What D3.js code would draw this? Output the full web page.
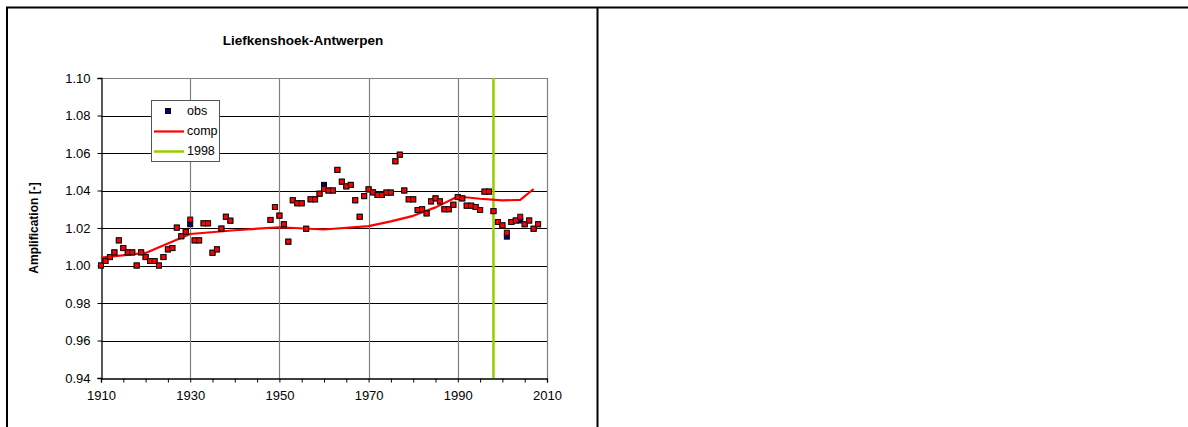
<!DOCTYPE html>
<html>
<head>
<meta charset="utf-8">
<script src="https://cdn.jsdelivr.net/npm/d3@7"></script>
<style>
  body { margin: 0; background: #fff; }
  text { font-family: "Liberation Sans", Arial, sans-serif; }
</style>
</head>
<body>
<script>
// data
var years = [1910,1911,1912,1913,1914,1915,1916,1917,1918,1919,1920,1921,1922,1923,1924,1925,1926,1927,1928,1929,
  1930,1931,1932,1933,1934,1935,1936,1937,1938,1939,
  1948,1949,1950,1951,1952,1953,1954,1955,1956,1957,1958,1959,
  1960,1961,1962,1963,1964,1965,1966,1967,1968,1969,1970,1971,1972,1973,1974,1975,1976,1977,1978,1979,
  1980,1981,1982,1983,1984,1985,1986,1987,1988,1989,1990,1991,1992,1993,1994,1995,1996,1997,1998,1999,
  2000,2001,2002,2003,2004,2005,2006,2007,2008];

// red markers
var redVals = [1.000,1.0024,1.0045,1.007,1.0134,1.0093,1.007,1.007,1.000,1.007,1.0045,1.0024,1.0024,1.000,1.0045,1.0086,1.0093,1.0202,1.0156,1.018,
  1.0245,1.0134,1.0134,1.0225,1.0225,1.0068,1.0086,1.0197,1.026,1.0239,
  1.0243,1.0312,1.0266,1.022,1.0127,1.0348,1.0332,1.0332,1.0196,1.0353,1.0353,1.0383,
  1.0408,1.040,1.040,1.051,1.0447,1.0422,1.043,1.0348,1.026,1.037,1.0406,1.039,1.0376,1.0376,1.0389,1.0389,1.0556,1.0591,1.040,1.0353,
  1.0353,1.0296,1.030,1.0278,1.0342,1.0358,1.0342,1.030,1.030,1.0324,1.0365,1.0358,1.0319,1.0319,1.0312,1.0296,1.0394,1.0394,1.029,1.0232,
  1.0214,1.0175,1.0232,1.024,1.026,1.022,1.024,1.0196,1.022];

// obs (navy markers, mostly hidden under the red ones)
var obsVals = [1.000,1.0024,1.0045,1.007,1.0134,1.0093,1.007,1.007,1.000,1.007,1.0045,1.0024,1.0024,1.000,1.0045,1.0086,1.0093,1.0202,1.0156,1.018,
  1.022,1.0134,1.0134,1.0225,1.0225,1.0068,1.0086,1.0197,1.026,1.0239,
  1.0243,1.0312,1.0266,1.022,1.0127,1.0348,1.0332,1.0332,1.0196,1.0353,1.0353,1.0383,
  1.043,1.040,1.040,1.051,1.0447,1.0422,1.043,1.0348,1.026,1.037,1.0406,1.039,1.0376,1.0376,1.0389,1.0389,1.0556,1.0591,1.040,1.0353,
  1.0353,1.0296,1.030,1.0278,1.0342,1.0358,1.0342,1.030,1.030,1.0324,1.0365,1.0358,1.0319,1.0319,1.0312,1.0296,1.0394,1.0394,1.029,1.0232,
  1.0214,1.0154,1.0232,1.024,1.024,1.022,1.024,1.0196,1.022];

var compYears = [1910,1920,1930,1940,1950,1960,1970,1975,1980,1985,1990,1995,2000,2004,2007];
var compVals  = [1.0042,1.0067,1.0168,1.0188,1.0204,1.0192,1.021,1.0235,1.0265,1.031,1.0368,1.0356,1.0347,1.035,1.0408];

var markYear = 1998;
var yTicks = [0.94,0.96,0.98,1.00,1.02,1.04,1.06,1.08,1.10];
var xTicks = d3.range(1910, 2011, 5);
var xLabels = [1910,1930,1950,1970,1990,2010];

var W = 1188, H = 427;
var svg = d3.select('body').append('svg')
    .attr('width', W)
    .attr('height', H);

// frame of the page
svg.append('line').attr('x1',6).attr('x2',W).attr('y1',7.5).attr('y2',7.5)
    .attr('stroke','#000').attr('stroke-width',2);
svg.append('line').attr('x1',7).attr('x2',7).attr('y1',7).attr('y2',H)
    .attr('stroke','#000').attr('stroke-width',2);
svg.append('line').attr('x1',597.5).attr('x2',597.5).attr('y1',7).attr('y2',H)
    .attr('stroke','#000').attr('stroke-width',2);

var xScale = d3.scaleLinear().domain([1910,2010]).range([101,547]);
var yScale = d3.scaleLinear().domain([0.94,1.10]).range([378,78]);

// title
svg.append('text')
    .attr('x',303).attr('y',45)
    .attr('text-anchor','middle')
    .style('font-size','13.5px').style('font-weight','bold')
    .text('Liefkenshoek-Antwerpen');

// gridlines
svg.append('g').selectAll('line')
    .data(yTicks.slice(1))
    .enter().append('line')
    .attr('x1',xScale(1910)).attr('x2',xScale(2010))
    .attr('y1',function(d){ return Math.round(yScale(d)) + 0.5; })
    .attr('y2',function(d){ return Math.round(yScale(d)) + 0.5; })
    .attr('stroke',function(d){ return d > 1.09 ? '#808080' : '#000'; })
    .attr('stroke-width',1);

svg.append('g').selectAll('line')
    .data(xLabels.slice(1))
    .enter().append('line')
    .attr('x1',function(d){ return Math.round(xScale(d)) + 0.5; })
    .attr('x2',function(d){ return Math.round(xScale(d)) + 0.5; })
    .attr('y1',yScale(1.10)).attr('y2',yScale(0.94))
    .attr('stroke','#808080')
    .attr('stroke-width',1.2);

// axes
var yAxis = d3.axisLeft(yScale)
    .tickValues(yTicks)
    .tickSize(4)
    .tickPadding(7)
    .tickFormat(d3.format('.2f'));

var xAxis = d3.axisBottom(xScale)
    .tickValues(xTicks)
    .tickSize(4)
    .tickPadding(12)
    .tickFormat(function(d){ return xLabels.indexOf(d) >= 0 ? d : ''; });

var gy = svg.append('g')
    .attr('transform','translate(' + (Math.round(xScale(1910)) + 0.5) + ',0)')
    .call(yAxis);
var gx = svg.append('g')
    .attr('transform','translate(0,' + (Math.round(yScale(0.94)) + 0.5) + ')')
    .call(xAxis);

[gx, gy].forEach(function(g){
  g.select('.domain').attr('stroke','#000').attr('stroke-width',1.3);
  g.selectAll('.tick line').attr('stroke','#000');
  g.selectAll('.tick text')
    .attr('fill','#000')
    .style('font-size','13px')
    .style('font-family','"Liberation Sans", Arial, sans-serif');
});
gx.selectAll('.tick text').attr('dy','0.4em');

// y-axis title
svg.append('text')
    .attr('transform','translate(38,' + yScale(1.02) + ') rotate(-90)')
    .attr('text-anchor','middle')
    .style('font-size','12px').style('font-weight','bold')
    .text('Amplification [-]');

// 1998 line
svg.append('line')
    .attr('x1',xScale(markYear)).attr('x2',xScale(markYear))
    .attr('y1',yScale(1.10)).attr('y2',yScale(0.94))
    .attr('stroke','#99CC00').attr('stroke-width',2.5);

// comp line
var line = d3.line()
    .x(function(d){ return xScale(d[0]); })
    .y(function(d){ return yScale(d[1]); });

svg.append('path')
    .datum(d3.zip(compYears, compVals))
    .attr('d', line)
    .attr('fill','none')
    .attr('stroke','#FF0000')
    .attr('stroke-width',2.2)
    .attr('stroke-linejoin','round');

// markers
var ms = 5;
svg.append('g').selectAll('rect')
    .data(d3.zip(years, obsVals))
    .enter().append('rect')
    .attr('x',function(d){ return xScale(d[0]) - ms/2; })
    .attr('y',function(d){ return yScale(d[1]) - ms/2; })
    .attr('width',ms).attr('height',ms)
    .attr('fill','#000080')
    .attr('stroke','#000')
    .attr('stroke-width',1);

svg.append('g').selectAll('rect')
    .data(d3.zip(years, redVals))
    .enter().append('rect')
    .attr('x',function(d){ return xScale(d[0]) - ms/2; })
    .attr('y',function(d){ return yScale(d[1]) - ms/2; })
    .attr('width',ms).attr('height',ms)
    .attr('fill','#FF0000')
    .attr('stroke','#111')
    .attr('stroke-width',1);

// legend
var lg = svg.append('g').attr('transform','translate(151,100)');
lg.append('rect')
    .attr('x',0.5).attr('y',0.5).attr('width',68).attr('height',61)
    .attr('fill','#fff').attr('stroke','#555').attr('stroke-width',1);
lg.append('rect')
    .attr('x',14.5).attr('y',8.5).attr('width',5).attr('height',5)
    .attr('fill','#000080').attr('stroke','#000').attr('stroke-width',1);
lg.append('line').attr('x1',3).attr('x2',33).attr('y1',31.5).attr('y2',31.5)
    .attr('stroke','#FF0000').attr('stroke-width',2.2);
lg.append('line').attr('x1',3).attr('x2',33).attr('y1',51.5).attr('y2',51.5)
    .attr('stroke','#99CC00').attr('stroke-width',2.5);
var lgText = ['obs','comp','1998'];
lg.selectAll('text.lt')
    .data(lgText)
    .enter().append('text')
    .attr('class','lt')
    .attr('x',36)
    .attr('y',function(d,i){ return 15 + i * 20; })
    .style('font-size','12.5px')
    .text(function(d){ return d; });
</script>
</body>
</html>
